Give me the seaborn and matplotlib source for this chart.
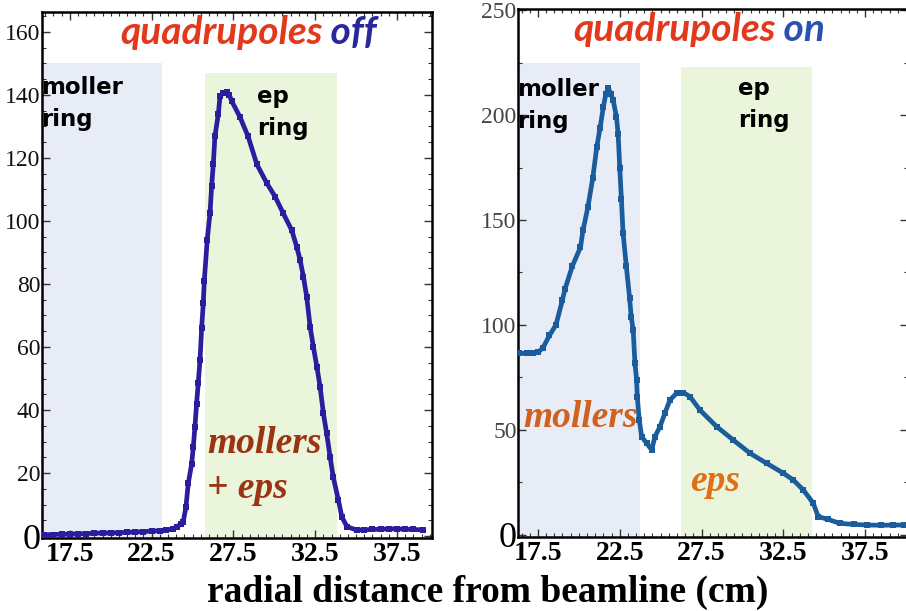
import matplotlib
matplotlib.use("Agg")
import matplotlib.pyplot as plt
from matplotlib.ticker import MultipleLocator
import seaborn as sns
import pandas as pd

sns.set_theme(style="white")
plt.rcParams['font.family'] = ['Liberation Serif', 'DejaVu Serif']
plt.rcParams['text.color'] = 'black'

# ---- data: quadrupoles off ----
off_x = [15.9, 16.5, 17.0, 17.5, 18.0, 18.5, 19.0, 19.5, 20.0, 20.5, 21.0, 21.5, 22.0, 22.5, 23.0,
         23.4, 23.8, 24.03, 24.3, 24.43, 24.6, 24.74, 24.95, 25.05, 25.15, 25.25, 25.35, 25.46,
         25.56, 25.66, 25.72, 25.9, 26.07, 26.17, 26.27, 26.37, 26.58, 26.68, 26.85, 27.09, 27.25,
         27.4, 27.9, 28.4, 28.93, 29.54, 30.05, 30.55, 31.07, 31.37, 31.58, 31.78, 31.98, 32.19,
         32.39, 32.6, 32.8, 33.0, 33.2, 33.41, 33.6, 33.92, 34.13, 34.44, 35.05, 35.5, 36.0, 36.5,
         37.0, 37.5, 38.0, 38.5, 39.1]
off_y = [0.4, 0.5, 0.6, 0.6, 0.7, 0.8, 0.9, 1.0, 1.0, 1.1, 1.2, 1.3, 1.4, 1.6, 1.7,
         1.9, 2.3, 3.0, 3.8, 4.5, 9.3, 16.7, 23.0, 28.4, 34.7, 42.0, 48.5, 56.0,
         66.0, 74.0, 81.0, 94.0, 102.5, 111.0, 118.0, 126.8, 134.0, 139.5, 140.5, 141.0, 140.0,
         138.0, 133.0, 126.8, 118.0, 112.0, 107.7, 102.4, 97.0, 91.8, 87.6, 82.3, 76.0, 66.4,
         60.0, 53.8, 47.4, 39.0, 32.6, 25.2, 18.8, 11.4, 6.1, 3.0, 1.9, 2.0, 2.1, 2.2,
         2.3, 2.3, 2.2, 2.1, 2.0]

# ---- data: quadrupoles on ----
on_x = [16.35, 16.8, 17.2, 17.5, 17.8, 18.2, 18.6, 19.0, 19.15, 19.6, 20.1, 20.25, 20.55, 20.85,
        21.1, 21.3, 21.5, 21.65, 21.8, 21.95, 22.1, 22.3, 22.4, 22.5, 22.6, 22.7, 22.9, 23.1,
        23.2, 23.32, 23.43, 23.53, 23.57, 23.69, 23.84, 24.14, 24.45, 24.65, 24.96, 25.26,
        25.57, 25.98, 26.38, 26.79, 27.4, 28.42, 29.44, 30.46, 31.48, 32.5, 33.1, 33.72, 34.33,
        34.63, 35.2, 35.95, 36.8, 37.6, 38.5, 39.2, 39.9]
on_y = [86.5, 86.5, 86.5, 87.0, 89.0, 95.0, 100.0, 112.0, 117.0, 128.0, 137.0, 145.0, 156.0, 170.0,
        185.0, 194.0, 204.0, 210.0, 213.0, 210.0, 207.0, 199.0, 191.0, 175.0, 160.0, 144.0, 128.0, 113.0,
        104.0, 97.6, 81.7, 73.8, 65.9, 54.8, 46.8, 43.7, 40.5, 46.8, 51.6, 58.0,
        64.3, 67.5, 67.8, 65.9, 59.5, 51.6, 45.2, 38.9, 34.1, 29.4, 26.2, 21.4, 15.1,
        8.7, 7.5, 5.5, 5.0, 4.7, 4.6, 4.7, 4.7]

# ---- shaded ring regions (x0, x1, top) ----
off_moller_band = [15.5, 23.13, 150.0]
off_ep_band = [25.76, 33.84, 147.0]
on_moller_band = [16.0, 23.73, 225.0]
on_ep_band = [26.24, 34.25, 223.0]

xticks = [17.5, 22.5, 27.5, 32.5, 37.5]
off_yticks = [0, 20, 40, 60, 80, 100, 120, 140, 160]
on_yticks = [0, 50, 100, 150, 200, 250]

BLUE_BAND = "#e7ecf6"
GREEN_BAND = "#ebf5dc"
RED = "#e2381c"
W, H = 906, 611
fig = plt.figure(figsize=(W / 100, H / 100), dpi=100)
fig.patch.set_facecolor("white")

ax1 = fig.add_axes([42 / W, (H - 538) / H, 390 / W, 526 / H])
ax2 = fig.add_axes([518 / W, (H - 537) / H, 390 / W, 528 / H])

SANS_BI = dict(family=["Lato", "DejaVu Sans"], weight="bold", style="italic")
RING = dict(family=["DejaVu Sans"], weight="bold", color="black", fontsize=16.5,
            linespacing=1.5)
SERIF_BI = dict(family=["Liberation Serif"], weight="bold", style="italic")


def style_axes(ax, xlim, ylim, yticks, yminor, ylabcolor):
    ax.set_facecolor("white")
    ax.set_xlim(*xlim)
    ax.set_ylim(*ylim)
    ax.set_xticks(xticks)
    ax.set_yticks(yticks)
    ax.xaxis.set_minor_locator(MultipleLocator(0.5))
    ax.yaxis.set_minor_locator(MultipleLocator(yminor))
    ax.tick_params(which="both", direction="in", top=True, right=True,
                   bottom=True, left=True, colors="#333333")
    ax.tick_params(which="major", length=6, width=1.0)
    ax.tick_params(which="minor", length=3, width=0.8)
    ax.tick_params(axis="x", labelsize=20, pad=3, labelcolor="black")
    ax.tick_params(axis="y", labelsize=17, pad=1, labelcolor=ylabcolor)
    for lab in ax.get_xticklabels():
        lab.set_fontweight("bold")
    ylabs = ax.get_yticklabels()
    ylabs[0].set_fontsize(26)
    ylabs[0].set_color("black")
    for s in ax.spines.values():
        s.set_color("black")
        s.set_linewidth(1.8)
        s.set_visible(True)
    ax.set_xlabel("")
    ax.set_ylabel("")


def bands(ax, b1, b2):
    ax.fill_between([b1[0], b1[1]], -5, b1[2], color=BLUE_BAND, lw=0, zorder=0)
    ax.fill_between([b2[0], b2[1]], -5, b2[2], color=GREEN_BAND, lw=0, zorder=0)


# ---- left panel ----
bands(ax1, off_moller_band, off_ep_band)
df_off = pd.DataFrame({"x": off_x, "y": off_y})
sns.lineplot(data=df_off, x="x", y="y", ax=ax1, color="#2b1d9e", lw=3.4,
             marker="s", markersize=3.8, markeredgewidth=0, sort=False, zorder=3)
style_axes(ax1, (15.8, 39.64), (-0.6, 166.3), off_yticks, 5, "#111111")

t1 = ax1.text(20.56, 159.7, "quadrupoles", color=RED, fontsize=28, va="center",
              ha="left", **SANS_BI)
ax1.annotate(" off", xy=(1, 0), xycoords=t1, va="bottom", ha="left",
             color="#28289c", fontsize=28, **SANS_BI)
ax1.text(15.75, 146.0, "moller\nring", va="top", ha="left", clip_on=True, **RING)
ax1.text(28.94, 143.0, "ep\nring", va="top", ha="left", **RING)
ax1.text(25.88, 29.5, "mollers", color="#9b3412", fontsize=27, va="center",
         ha="left", **SERIF_BI)
ax1.text(25.88, 15.2, "+ eps", color="#9b3412", fontsize=27, va="center",
         ha="left", **SERIF_BI)

# ---- right panel ----
bands(ax2, on_moller_band, on_ep_band)
df_on = pd.DataFrame({"x": on_x, "y": on_y})
sns.lineplot(data=df_on, x="x", y="y", ax=ax2, color="#1a5c9c", lw=3.4,
             marker="s", markersize=3.8, markeredgewidth=0, sort=False, zorder=3)
style_axes(ax2, (16.28, 40.12), (-1.0, 250.5), on_yticks, 25, "#444444")

t2 = ax2.text(19.64, 240.5, "quadrupoles", color=RED, fontsize=28, va="center",
              ha="left", **SANS_BI)
ax2.annotate(" on", xy=(1, 0), xycoords=t2, va="bottom", ha="left",
             color="#2a50b2", fontsize=28, **SANS_BI)
ax2.text(16.25, 217.5, "moller\nring", va="top", ha="left", clip_on=True, **RING)
ax2.text(29.72, 218.0, "ep\nring", va="top", ha="left", **RING)
ax2.text(16.58, 55.7, "mollers", color="#d2601e", fontsize=27, va="center",
         ha="left", **SERIF_BI)
ax2.text(26.79, 25.2, "eps", color="#e07018", fontsize=27, va="center",
         ha="left", **SERIF_BI)

fig.text(0.538, 0.031, "radial distance from beamline (cm)", ha="center",
         va="center", fontsize=27, weight="bold", family=["Liberation Serif"],
         color="black")

fig.savefig("out.png", dpi=100, facecolor="white")
